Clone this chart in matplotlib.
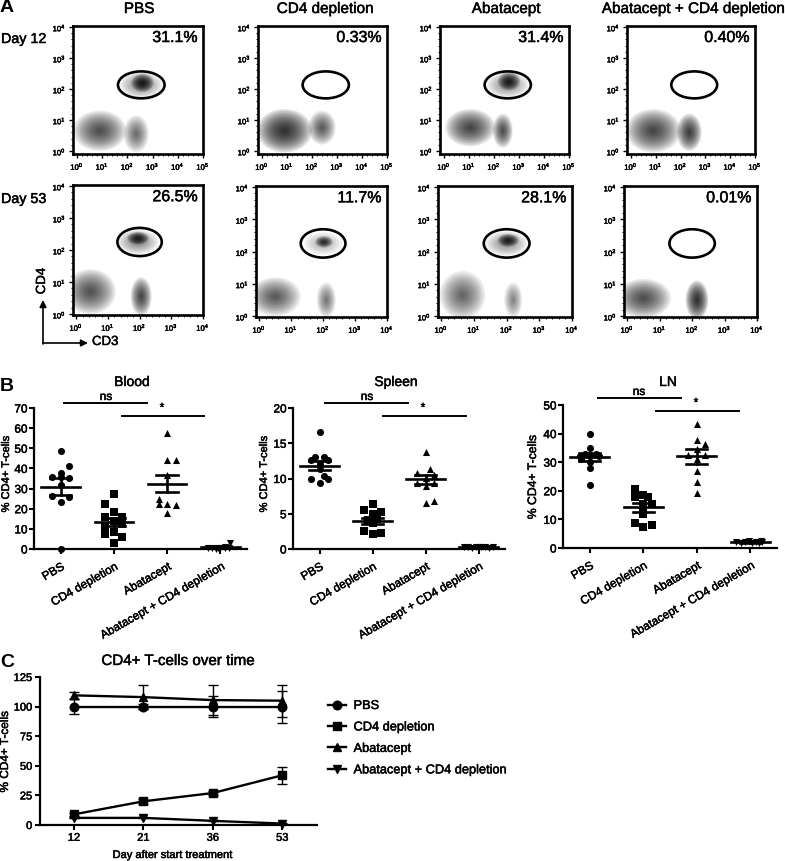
import numpy as np
from matplotlib import pyplot as plt
from matplotlib.lines import Line2D
from matplotlib.patches import Ellipse
from matplotlib.ticker import AutoMinorLocator
from matplotlib.text import Text
import matplotlib.patheffects as pe

plt.rcParams['font.family'] = ['Liberation Sans', 'DejaVu Sans']
plt.rcParams['mathtext.default'] = 'regular'

W, H = 785, 862

groups = ["PBS", "CD4 depletion", "Abatacept", "Abatacept + CD4 depletion"]
markers = ["o", "s", "^", "v"]
days = ["Day 12", "Day 53"]
percents = [["31.1%", "0.33%", "31.4%", "0.40%"],
            ["26.5%", "11.7%", "28.1%", "0.01%"]]

# flow populations: x, y (decades), radius x, radius y, darkness
flow_d12 = [
    [(2.6, 2.2, .45, .3, 1.0), (2.55, 2.13, .85, .42, .4), (.9, .65, 1.05, .65, .7), (2.35, .55, .5, .6, .5)],
    [(.9, .65, 1.1, .7, .95), (2.4, .75, .55, .55, .6)],
    [(2.6, 2.25, .45, .3, 1.0), (2.55, 2.13, .85, .42, .35), (1.05, .75, 1.0, .6, .75), (2.35, .65, .4, .55, .7)],
    [(.9, .65, 1.1, .7, .75), (2.35, .6, .5, .6, .8)],
]
flow_d53 = [
    [(1.95, 2.37, .35, .2, 1.0), (1.95, 2.25, .65, .38, .4), (.45, .7, .8, .7, .65), (2.05, .55, .33, .6, .75)],
    [(2.03, 2.3, .28, .18, .8), (2.0, 2.25, .6, .35, .25), (.5, .6, .8, .6, .6), (2.1, .5, .3, .55, .45)],
    [(2.05, 2.35, .33, .2, 1.0), (2.0, 2.25, .65, .38, .35), (.65, .65, .7, .75, .55), (2.2, .5, .28, .55, .4)],
    [(.5, .55, .85, .6, .7), (2.15, .5, .35, .6, .95)],
]
gate_d12 = (2.55, 2.13, 1.85, .87)
gate_d53 = (2.0, 2.25, 1.4, .88)

# panel B, one list of values and one of sideways offsets per group
blood_vals = [[48.6, 41, 37.8, 35.5, 35.3, 35.6, 32, 26.5, 26, 23.5, 0],
              [27.5, 22.2, 18.2, 15.7, 16, 14, 11.6, 12.4, 7.5, 8.3, 6.1, 3.2],
              [57.7, 44.4, 44.4, 36.8, 24.9, 22.4, 22.4, 21.9, 17.7],
              [.3, .5, .2, .6, .8, .4, .5, .7, 3.0]]
blood_off = [[0, .16, 0, -.16, .16, 0, 0, -.16, .16, 0, 0],
             [0, -.16, 0, -.16, .16, 0, -.16, .16, -.16, 0, .16, 0],
             [0, 0, .16, 0, -.16, -.16, 0, .16, 0],
             [-.24, -.16, -.08, 0, .08, .16, .08, -.04, .19]]
blood_mean = [31, 13.4, 32.4, .8]
blood_sem = [4.2, 2.2, 4.3, .3]

spleen_vals = [[16.6, 13, 13.1, 12.6, 12.6, 12, 11.3, 10, 10, 10.3, 9.4],
               [6.4, 5.5, 5.2, 4.9, 4.1, 4.2, 3.7, 2.5, 2.3, 2.1],
               [13.7, 11.4, 10.8, 10.5, 10.1, 9.4, 9.4, 8.9, 6.5, 6.8],
               [.25, .3, .2, .3, .25, .3, .2, .3, .25]]
spleen_off = [[0, -.08, .08, -.16, .16, 0, 0, -.16, .16, .09, 0],
              [0, -.16, .16, 0, -.09, .09, 0, -.16, .16, 0],
              [0, .08, -.16, .16, 0, -.16, .16, 0, 0, .16],
              [-.28, -.2, -.12, -.04, .04, .12, .2, .28, 0]]
spleen_mean = [11.8, 4.0, 9.9, .25]
spleen_sem = [.65, .45, .65, .05]

ln_vals = [[40, 35, 33, 33, 32, 32, 32, 31, 30, 28, 22],
           [20.6, 18, 18.5, 18, 15.4, 15.4, 13.6, 11.9, 8.7, 8.1, 7.4],
           [43.5, 37.8, 36.2, 34.5, 32.4, 32.4, 31, 27, 23, 19.2],
           [2, 1.8, 2.1, 2.4, 1.9, 2.2, 1.8, 2.1, 2.6]]
ln_off = [[0, 0, -.09, .11, -.19, .17, 0, -.16, 0, 0, 0],
          [-.16, -.16, 0, .09, 0, .16, 0, 0, -.16, .16, 0],
          [0, 0, .16, 0, -.17, .16, 0, 0, 0, 0],
          [-.26, -.18, -.1, -.02, .04, .1, .16, .22, .2]]
ln_mean = [31.8, 14.2, 32, 2]
ln_sem = [1.5, 1.5, 2.5, .2]

# panel C
time_labels = ["12", "21", "36", "53"]
pbs_time = [100, 100, 100, 100]
pbs_err = [6.5, 2, 9, 13.5]
cd4_time = [9, 20, 27, 42]
cd4_err = [1, 2, 2, 7]
aba_time = [109.5, 108, 105.5, 105]
aba_err = [3, 10, 12.5, 13.5]
combo_time = [6, 6, 3.5, 1.2]
combo_err = [.5, .5, .5, .5]


def ax_at(fig, l, t, r, b):
    return fig.add_axes([l / W, 1 - b / H, (r - l) / W, (b - t) / H])


def flowPanel(fig, box, xmax, xlim, ylim, blobs, gate, pct):
    ax = ax_at(fig, *box)
    ax.set_xlim(*xlim)
    ax.set_ylim(*ylim)
    for x, y, rx, ry, dark in blobs:
        # stacked see-through ellipses give a soft dense centre
        for s in np.linspace(1, .1, 12):
            ax.add_patch(Ellipse((x, y), 2 * rx * s, 2 * ry * s, color='k', lw=0, alpha=dark * .13))
    ax.add_patch(Ellipse(gate[:2], gate[2], gate[3], fill=False, ec='k', lw=1.9, zorder=5))
    ax.set_xticks(range(xmax + 1))
    ax.set_yticks(range(5))
    ax.set_xticklabels(["10$^{%d}$" % i for i in range(xmax + 1)], fontsize=5.5)
    ax.set_yticklabels(["10$^{%d}$" % i for i in range(5)], fontsize=5.5)
    ax.xaxis.set_minor_locator(AutoMinorLocator(5))
    ax.yaxis.set_minor_locator(AutoMinorLocator(5))
    ax.tick_params(which='major', length=3, width=1, pad=2)
    ax.tick_params(which='minor', length=1.5, width=.7)
    for s in ax.spines.values():
        s.set_linewidth(1.9)
    ax.text(.96, .91, pct, transform=ax.transAxes, ha='right', va='center', fontsize=11.5)
    return ax


def scatterPanel(fig, box, ymax, ystep, vals, offs, means, sems):
    ax = ax_at(fig, *box)
    ax.set_xlim(-.5, 3.5)
    ax.set_ylim(0, ymax)
    for i in range(4):
        ax.scatter(np.array(offs[i]) + i, vals[i], marker=markers[i], s=26, c='k', lw=0, clip_on=False, zorder=3)
        ax.plot([i - .36, i + .36], [means[i]] * 2, 'k', lw=1.9, clip_on=False, zorder=4)
        for e in (-sems[i], sems[i]):
            ax.plot([i - .2, i + .2], [means[i] + e] * 2, 'k', lw=1.9, clip_on=False, zorder=4)
        ax.plot([i, i], [means[i] - sems[i], means[i] + sems[i]], 'k', lw=1.9, clip_on=False, zorder=4)
    ax.set_xticks(range(4))
    ax.set_xticklabels(groups, rotation=30, ha='right', va='top', rotation_mode='anchor', fontsize=8.5)
    ax.set_yticks(np.arange(0, ymax + 1, ystep))
    ax.tick_params(axis='y', labelsize=8.5, length=3.6, width=1.5, pad=1)
    ax.tick_params(axis='x', length=3.6, width=1.5, pad=5)
    for s in ('top', 'right'):
        ax.spines[s].set_visible(False)
    for s in ('left', 'bottom'):
        ax.spines[s].set_linewidth(1.6)
    return ax


fig = plt.figure(figsize=(W / 100, H / 100), dpi=100)

# page sized layer for titles and annotations, in picture pixels
page = fig.add_axes([0, 0, 1, 1], zorder=10)
page.set_xlim(0, W)
page.set_ylim(H, 0)
page.axis('off')

boxes_d12 = [(73, 27, 203, 155), (258, 27, 387, 155), (440, 27, 569, 155), (627, 27, 755, 155)]
boxes_d53 = [(73, 186, 203, 316), (256, 187, 387, 318), (438, 187, 572, 318), (624, 187, 757, 318)]
title_x = [139, 325, 506, 693]

for i in range(4):
    flowPanel(fig, boxes_d12[i], 5, (-.16, 5), (-.1, 4.03), flow_d12[i], gate_d12, percents[0][i])
    flowPanel(fig, boxes_d53[i], 4, (-.1, 4), (-.03, 4.03), flow_d53[i], gate_d53, percents[1][i])
    page.text(title_x[i], 10, groups[i], ha='center', va='center', fontsize=11)

page.text(1, 40, days[0], va='center', fontsize=10.3)
page.text(1, 200, days[1], va='center', fontsize=10.3)
page.text(0, 8, "A", va='center', fontsize=14, fontweight='bold')
page.text(0, 387, "B", va='center', fontsize=14, fontweight='bold')
page.text(0, 663, "C", va='center', fontsize=14, fontweight='bold')

# CD4 / CD3 arrows
page.annotate("", xy=(43, 301), xytext=(43, 345), arrowprops=dict(arrowstyle='-|>', color='k', lw=1.2, shrinkA=0, shrinkB=0))
page.annotate("", xy=(88, 344), xytext=(43, 344), arrowprops=dict(arrowstyle='-|>', color='k', lw=1.2, shrinkA=0, shrinkB=0))
page.text(42, 282, "CD4", rotation=90, ha='center', va='center', fontsize=9.5)
page.text(92, 343, "CD3", va='center', fontsize=9.5)

# panel B
scatterPanel(fig, (34, 409, 247, 550), 70, 10, blood_vals, blood_off, blood_mean, blood_sem)
scatterPanel(fig, (293, 409, 505, 550), 20, 5, spleen_vals, spleen_off, spleen_mean, spleen_sem)
scatterPanel(fig, (563, 406, 777, 549), 50, 10, ln_vals, ln_off, ln_mean, ln_sem)

for x, name in zip((132, 396, 668), ("Blood", "Spleen", "LN")):
    page.text(x, 383, name, ha='center', va='center', fontsize=10)
for x, yc, fs in zip((6, 264, 533), (475, 475, 478), (8, 8, 8.8)):
    page.text(x, yc, "% CD4+ T-cells", rotation=90, ha='center', va='center', fontsize=fs)

sig_bars = [(64, 147, 404, "ns", 106, 398), (122, 204, 417, "*", 162, 409),
            (325, 408, 404, "ns", 367, 398), (383, 466, 417, "*", 423, 409),
            (598, 681, 399, "ns", 639, 393), (656, 739, 412, "*", 696, 404)]
for x0, x1, y, lab, tx, ty in sig_bars:
    page.plot([x0, x1], [y, y], color='k', lw=1.4)
    page.text(tx, ty, lab, ha='center', va='center', fontsize=8.5)

# panel C
axc = ax_at(fig, 40, 678, 317, 826)
tpos = np.arange(4)
for vals, err, mk in zip((pbs_time, cd4_time, aba_time, combo_time),
                         (pbs_err, cd4_err, aba_err, combo_err), markers):
    axc.errorbar(tpos, vals, yerr=err, color='k', marker=mk, ms=6.2, lw=1.7, elinewidth=1,
                 capsize=3.7, capthick=1, clip_on=False)
axc.set_xlim(-.49, 3.5)
axc.set_ylim(0, 125)
axc.set_xticks(tpos)
axc.set_xticklabels(time_labels)
axc.set_yticks(range(0, 126, 25))
axc.tick_params(labelsize=8, length=3.6, width=1.5, pad=2)
for s in ('top', 'right'):
    axc.spines[s].set_visible(False)
for s in ('left', 'bottom'):
    axc.spines[s].set_linewidth(1.6)
handles = [Line2D([], [], color='k', marker=mk, ms=6.2, lw=1.7, label=lab) for mk, lab in zip(markers, groups)]
axc.legend(handles=handles, loc='upper left', bbox_to_anchor=(328 / W, 1 - 701 / H), bbox_transform=fig.transFigure,
           frameon=False, fontsize=9.2, labelspacing=.74, handlelength=1.4, handletextpad=.6, borderpad=0, borderaxespad=0)

page.text(178, 662, "CD4+ T-cells over time", ha='center', va='center', fontsize=10.9)
page.text(173, 856, "Day after start treatment", ha='center', va='center', fontsize=8)
page.text(5, 753, "% CD4+ T-cells", rotation=90, ha='center', va='center', fontsize=8.5)

# reference type is heavier than the regular face
for t in fig.findobj(Text):
    if t.get_fontweight() != 'bold':
        t.set_path_effects([pe.withStroke(linewidth=.35, foreground='k')])

fig.savefig("out.png", dpi=100)
